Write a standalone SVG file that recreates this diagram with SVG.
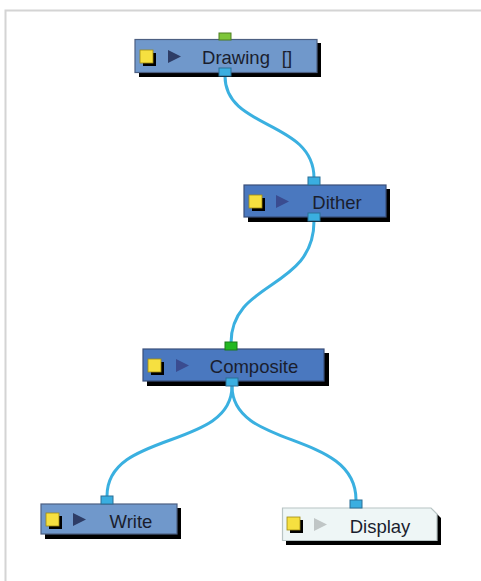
<svg xmlns="http://www.w3.org/2000/svg" width="481" height="581" viewBox="0 0 481 581">
<style>
.lbl{font-family:"Liberation Sans",Arial,sans-serif;font-size:18.5px;fill:#1a1e2e;text-anchor:middle}
.shadow{fill:#000}
.light{fill:#7098cb;stroke:#4c5f82;stroke-width:1.2}
.dark{fill:#4a78bf;stroke:#3a4f7a;stroke-width:1.2}
.disp{fill:#eef6f6;stroke:#b8c4c4;stroke-width:1.2}
.port{fill:#3aaee0;stroke:#2b6f96;stroke-width:1}
.gport{fill:#7ec63a;stroke:#4e7f22;stroke-width:1}
.gport2{fill:#22b822;stroke:#1a7a1a;stroke-width:1}
.ysq{fill:#f6e040;stroke:#a08a10;stroke-width:0.8}
.wire{fill:none;stroke:#3ab0e0;stroke-width:3}
</style>
<rect width="481" height="581" fill="#fff"/>
<path d="M5.5 581 V10.5 H481" fill="none" stroke="#d4d4d4" stroke-width="2"/>
<g id="connectors">
<path class="wire" d="M225 76 C225 130 314 120 314 178"/>
<path class="wire" d="M314 221 C314 290 231 280 231 343"/>
<path class="wire" d="M232 386 C232 450 107 430 107 496"/>
<path class="wire" d="M232 386 C232 450 356 430 356 500"/>
</g>
<g id="node-drawing">
<rect class="shadow" x="139" y="43" width="182" height="34"/>
<rect class="light" x="135" y="39.5" width="182" height="33"/>
<rect class="shadow" x="143" y="53" width="13" height="13"/>
<rect class="ysq" x="140" y="50" width="13" height="13"/>
<path d="M168 50 L181 56.5 L168 63 Z" fill="#2e3d66"/>
<text class="lbl" x="236" y="64">Drawing</text>
<text class="lbl" x="287" y="64">[]</text>
<rect class="gport" x="219" y="33" width="12" height="7"/>
<rect class="port" x="219" y="68" width="12" height="8"/>
</g>
<g id="node-dither">
<rect class="shadow" x="248" y="189" width="142" height="33"/>
<rect class="dark" x="244" y="185" width="142" height="32"/>
<rect class="shadow" x="252" y="198" width="13" height="13"/>
<rect class="ysq" x="249" y="195" width="13" height="13"/>
<path d="M276 195 L289 201.5 L276 208 Z" fill="#3a4c90"/>
<text class="lbl" x="337" y="209">Dither</text>
<rect class="port" x="308" y="177" width="12" height="8"/>
<rect class="port" x="308" y="213" width="12" height="8"/>
</g>
<g id="node-composite">
<rect class="shadow" x="147" y="353" width="182" height="33"/>
<rect class="dark" x="143" y="349" width="181" height="32"/>
<rect class="shadow" x="151" y="362" width="13" height="13"/>
<rect class="ysq" x="148" y="359" width="13" height="13"/>
<path d="M176 359 L189 365.5 L176 372 Z" fill="#3a4c90"/>
<text class="lbl" x="254" y="373">Composite</text>
<rect class="gport2" x="225" y="342" width="12" height="8"/>
<rect class="port" x="226" y="378" width="12" height="8"/>
</g>
<g id="node-write">
<rect class="shadow" x="45" y="508" width="136" height="31"/>
<rect class="light" x="41" y="504" width="136" height="30"/>
<rect class="shadow" x="49" y="516" width="13" height="13"/>
<rect class="ysq" x="46" y="513" width="13" height="13"/>
<path d="M73 513 L86 519.5 L73 526 Z" fill="#2e3d66"/>
<text class="lbl" x="131" y="528">Write</text>
<rect class="port" x="101" y="496" width="12" height="8"/>
</g>
<g id="node-display">
<path class="shadow" d="M286 512 H435 L441 518 V545 H286 Z"/>
<path class="disp" d="M282.5 508 H431 L437 514 V540.5 H282.5 Z"/>
<rect class="shadow" x="290" y="520" width="13" height="13"/>
<rect class="ysq" x="287" y="517" width="13" height="13"/>
<path d="M314 518 L327 524.5 L314 531 Z" fill="#c0c6c6"/>
<text class="lbl" x="380" y="533">Display</text>
<rect class="port" x="350" y="500" width="12" height="8"/>
</g>
</svg>
